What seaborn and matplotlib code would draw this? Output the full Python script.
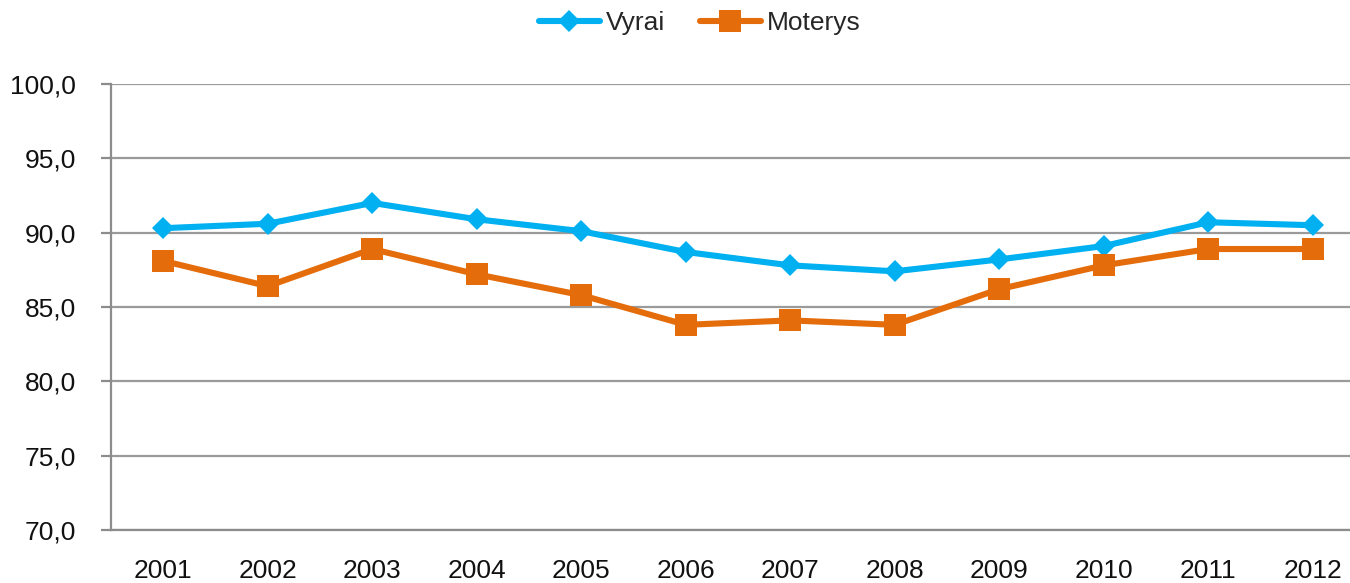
import matplotlib
matplotlib.use("Agg")
import matplotlib.pyplot as plt
import seaborn as sns
import pandas as pd
from matplotlib.ticker import FixedLocator, FuncFormatter
from matplotlib.lines import Line2D

years = ["2001", "2002", "2003", "2004", "2005", "2006",
         "2007", "2008", "2009", "2010", "2011", "2012"]
vyrai = [90.3, 90.6, 92.0, 90.9, 90.1, 88.7, 87.8, 87.4, 88.2, 89.1, 90.7, 90.5]
moterys = [88.1, 86.4, 88.9, 87.2, 85.8, 83.8, 84.1, 83.8, 86.2, 87.8, 88.9, 88.9]
series_names = ["Vyrai", "Moterys"]
y_ticks = [70, 75, 80, 85, 90, 95, 100]

df = pd.DataFrame({
    "year": years * 2,
    "value": vyrai + moterys,
    "series": [series_names[0]] * len(years) + [series_names[1]] * len(years),
})

sns.set_theme(style="white")
plt.rcParams["font.family"] = ["Liberation Sans", "DejaVu Sans"]

fig = plt.figure(figsize=(13.5, 5.83), dpi=100)
ax = fig.add_axes([111 / 1350, 1 - 530 / 583, 1254 / 1350, (530 - 84) / 583])

palette = {"Vyrai": "#00B0F0", "Moterys": "#E46C0A"}
marker_sizes = {"Vyrai": 11.5, "Moterys": 16.5}
lw = 4.4
sns.lineplot(data=df, x="year", y="value", hue="series", style="series",
             markers={"Vyrai": "D", "Moterys": "s"}, dashes=False,
             palette=palette, linewidth=lw, ax=ax, legend=False,
             markeredgewidth=0)
for line, name in zip(ax.lines, series_names):
    line.set_markersize(marker_sizes[name])

ax.set_xlim(-0.5, len(years) - 0.5)
ax.set_ylim(70, 100)
ax.yaxis.set_major_locator(FixedLocator(y_ticks))
ax.yaxis.set_major_formatter(FuncFormatter(lambda v, p: f"{v:.1f}".replace(".", ",")))
ax.grid(axis="y", color="#9a9a9a", linewidth=1.6)
ax.set_axisbelow(True)
ax.set_xlabel("")
ax.set_ylabel("")

for s in ["top", "right"]:
    ax.spines[s].set_visible(False)
for s in ["left", "bottom"]:
    ax.spines[s].set_color("#8c8c8c")
    ax.spines[s].set_linewidth(1.6)

ax.set_xticks(range(len(years)))
ax.set_xticklabels(years)
ax.xaxis.set_minor_locator(FixedLocator([i + 0.5 for i in range(-1, len(years))]))
ax.tick_params(axis="x", which="major", length=0, pad=21, labelsize=19, labelcolor="#111111")
ax.tick_params(axis="x", which="minor", length=12, width=1.6, color="#8c8c8c", direction="out")
ax.tick_params(axis="y", which="major", length=7, width=1.6, color="#8c8c8c", direction="out",
               pad=18, labelsize=19, labelcolor="#111111")
ax.tick_params(left=True, bottom=True)

handles = [Line2D([], [], color=palette[n], marker=m, markersize=marker_sizes[n] * 0.95,
                  linewidth=lw, markeredgewidth=0)
           for n, m in zip(series_names, ["D", "s"])]
fig.legend(handles, series_names, loc="center", bbox_to_anchor=(700 / 1350, 1 - 23 / 583),
           ncol=2, frameon=False, fontsize=19, handlelength=2.3, columnspacing=1.3,
           handletextpad=0.25)

fig.savefig("out.png", dpi=100)
